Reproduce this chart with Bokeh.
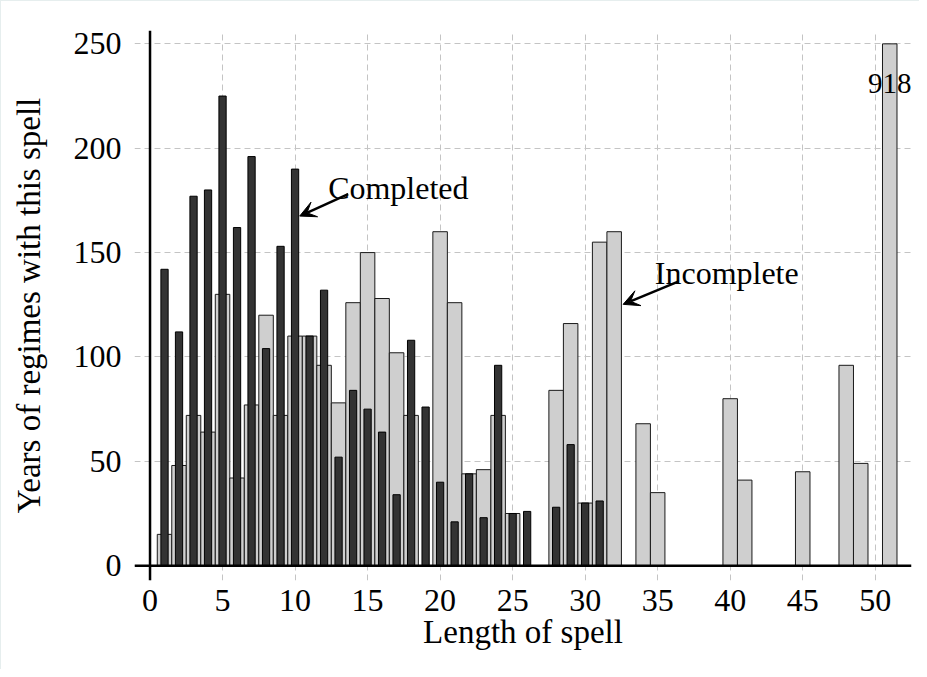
from bokeh.plotting import figure
from bokeh.models import Range1d, Span, Arrow, VeeHead, Label, FixedTicker, ColumnDataSource
from bokeh.embed import file_html
from bokeh.resources import INLINE

# ---- data ----
spell_length = list(range(1, 52))
completed = [142, 112, 177, 180, 225, 162, 196, 104, 153, 190,
             110, 132, 52, 84, 75, 64, 34, 108, 76, 40,
             21, 44, 23, 96, 25, 26, 0, 28, 58, 30,
             31, 0, 0, 0, 0, 0, 0, 0, 0, 0,
             0, 0, 0, 0, 0, 0, 0, 0, 0, 0,
             0]
incomplete = [15, 48, 72, 64, 130, 42, 77, 120, 72, 110,
              110, 96, 78, 126, 150, 128, 102, 72, 0, 160,
              126, 44, 46, 72, 25, 0, 0, 84, 116, 30,
              155, 160, 0, 68, 35, 0, 0, 0, 0, 80,
              41, 0, 0, 0, 45, 0, 0, 96, 49, 0,
              918]
y_cap = 250
x_ticks = [0, 5, 10, 15, 20, 25, 30, 35, 40, 45, 50]
y_ticks = [0, 50, 100, 150, 200, 250]

FONT = "Liberation Serif"

src = ColumnDataSource(dict(
    x=spell_length,
    comp=completed,
    inc=[min(v, y_cap) for v in incomplete],
))

p = figure(width=919, height=669, output_backend="svg", toolbar_location=None,
           x_range=Range1d(-1.07, 52.5), y_range=Range1d(-7.1, 256.4),
           min_border_left=133, min_border_right=9, min_border_top=29, min_border_bottom=90)
p.background_fill_color = "white"
p.border_fill_color = "white"
p.outline_line_color = None

# grid
for g, t in ((p.xgrid, x_ticks), (p.ygrid, y_ticks)):
    g.ticker = FixedTicker(ticks=t)
    g.grid_line_color = "#c4c4c4"
    g.grid_line_dash = "6 4"
    g.grid_line_width = 1

# bars
p.vbar(x="x", top="inc", bottom=0, width=1.0, source=src,
       fill_color="#cfcfcf", line_color="#1a1a1a", line_width=1)
p.vbar(x="x", top="comp", bottom=0, width=0.5, source=src,
       fill_color="#333333", line_color="#000000", line_width=1)

# axis lines crossing at origin
p.add_layout(Span(location=0, dimension="width", line_color="black", line_width=2.5))
p.add_layout(Span(location=0, dimension="height", line_color="black", line_width=2.5))

# axes
p.xaxis.ticker = FixedTicker(ticks=x_ticks)
p.yaxis.ticker = FixedTicker(ticks=y_ticks)
for ax in (p.xaxis[0], p.yaxis[0]):
    ax.axis_line_color = None
    ax.major_tick_line_color = None
    ax.minor_tick_line_color = None
    ax.major_label_text_font = FONT
    ax.major_label_text_font_size = "32px"
    ax.major_label_text_color = "black"
    ax.axis_label_text_font = FONT
    ax.axis_label_text_font_size = "33px"
    ax.axis_label_text_font_style = "normal"
    ax.axis_label_text_color = "black"
p.xaxis.axis_label = "Length of spell"
p.yaxis.axis_label = "Years of regimes with this spell"
p.yaxis.major_label_standoff = 7
p.xaxis.major_label_standoff = 3
p.yaxis.axis_label_standoff = 24
p.xaxis.axis_label_standoff = 0

# annotations
p.add_layout(Label(x=12.28, y=181, text="Completed", text_font=FONT,
                   text_font_size="32px", text_baseline="alphabetic", text_color="black"))
p.add_layout(Arrow(x_start=13.66, y_start=178, x_end=10.32, y_end=167.5,
                   line_width=2.5, line_color="black",
                   end=VeeHead(size=16, fill_color="black", line_color="black")))
p.add_layout(Label(x=34.8, y=140.1, text="Incomplete", text_font=FONT,
                   text_font_size="32px", text_baseline="alphabetic", text_color="black"))
p.add_layout(Arrow(x_start=36.41, y_start=136.1, x_end=32.62, y_end=125.2,
                   line_width=2.5, line_color="black",
                   end=VeeHead(size=16, fill_color="black", line_color="black")))
p.add_layout(Label(x=spell_length[-1], y=231, text=str(incomplete[-1]), text_font=FONT,
                   text_font_size="29px", text_align="center", text_baseline="alphabetic",
                   text_color="black"))

p.styles = {"border-top": "1px solid #e6eeee", "border-left": "1px solid #e6eeee"}

open("out.html", "w").write(file_html(p, INLINE))
